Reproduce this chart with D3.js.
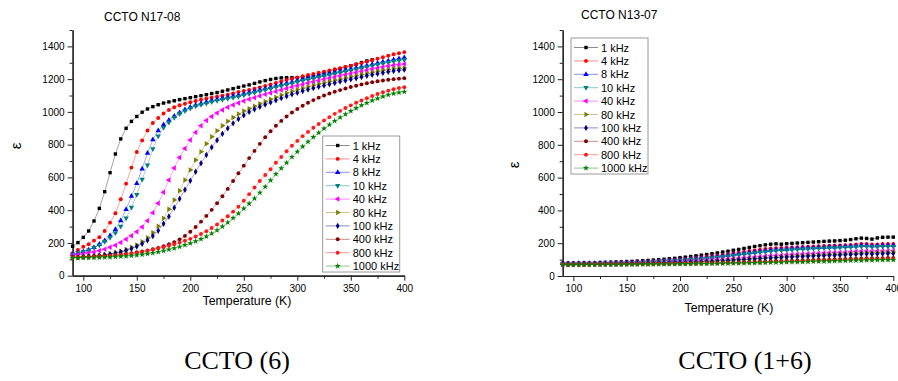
<!DOCTYPE html>
<html>
<head>
<meta charset="utf-8">
<script src="https://cdn.jsdelivr.net/npm/d3@7"></script>
<style>
  body { margin: 0; background: #fff; }
  svg { display: block; }
  text { font-family: "Liberation Sans", Arial, sans-serif; fill: #000; }
</style>
</head>
<body>
<svg id="chart" width="898" height="381"></svg>
<script>
// temperature grid (K)
const temps = [90,95,100,105,110,115,120,125,130,135,140,145,150,155,160,165,170,175,180,185,190,195,200,205,210,215,220,225,230,235,240,245,250,255,260,265,270,275,280,285,290,295,300,305,310,315,320,325,330,335,340,345,350,355,360,365,370,375,380,385,390,395,400];

const freqLabels = ['1 kHz','4 kHz','8 kHz','10 kHz','40 kHz','80 kHz','100 kHz','400 kHz','800 kHz','1000 kHz'];
const xTicks = [100,150,200,250,300,350,400];
const yTicks = [0,200,400,600,800,1000,1200,1400];

// sample N17-08 (CCTO (6))
const n17_1k = [180,202,234,273,334,411,513,629,743,835,900,942,972,998,1018,1032,1044,1054,1061,1068,1075,1081,1087,1093,1099,1105,1112,1118,1126,1134,1142,1150,1158,1165,1174,1183,1191,1198,1204,1208,1209,1209,1209,1211,1215,1220,1228,1237,1246,1255,1264,1273,1282,1291,1301,1311,1318];
const n17_4k = [137,157,177,192,214,235,273,324,381,467,562,660,755,826,886,932,963,990,1012,1028,1041,1050,1059,1067,1074,1081,1087,1093,1099,1105,1113,1122,1128,1134,1142,1150,1159,1168,1177,1186,1195,1203,1211,1218,1225,1232,1239,1246,1253,1260,1267,1274,1282,1290,1298,1307,1316,1325,1334,1343,1352,1358,1365];
const n17_8k = [131,137,147,157,173,192,214,245,283,336,405,485,564,652,748,830,885,922,950,974,996,1014,1029,1041,1051,1060,1068,1076,1083,1090,1096,1102,1110,1118,1126,1134,1142,1150,1158,1166,1174,1182,1190,1198,1205,1212,1219,1226,1233,1240,1247,1254,1261,1268,1275,1283,1290,1298,1305,1312,1319,1325,1331];
const n17_10k = [131,139,147,157,171,187,208,232,262,302,352,418,495,589,676,775,852,905,937,965,988,1007,1022,1035,1044,1053,1061,1069,1075,1081,1087,1093,1102,1110,1118,1127,1135,1143,1151,1159,1167,1175,1183,1191,1198,1205,1212,1219,1226,1233,1240,1247,1254,1261,1268,1275,1282,1289,1296,1302,1308,1313,1318];
const n17_40k = [124,128,133,139,145,153,161,173,186,202,222,244,268,298,335,385,442,509,584,658,722,776,828,875,915,948,972,993,1012,1028,1042,1055,1067,1077,1087,1097,1107,1116,1125,1134,1143,1152,1160,1168,1176,1184,1192,1199,1206,1213,1220,1227,1234,1241,1248,1255,1262,1268,1274,1280,1285,1289,1293];
const n17_80k = [112,113,115,117,120,123,128,134,141,150,160,173,188,207,232,263,302,350,405,462,519,584,645,706,757,805,848,885,916,943,966,987,1005,1020,1035,1050,1064,1077,1090,1103,1115,1126,1136,1145,1154,1162,1170,1178,1186,1193,1200,1207,1214,1221,1228,1235,1242,1248,1254,1259,1263,1266,1268];
const n17_100k = [112,113,115,117,119,122,126,131,137,145,154,165,178,195,216,242,275,317,362,415,470,525,580,635,687,737,784,827,866,900,930,957,980,1000,1016,1031,1045,1058,1071,1084,1096,1107,1117,1127,1136,1145,1153,1161,1169,1177,1185,1192,1199,1206,1213,1220,1227,1233,1239,1245,1250,1254,1258];
const n17_400k = [115,115,116,117,118,120,122,124,127,130,134,138,143,148,154,161,170,180,192,205,222,243,268,297,330,365,402,442,485,530,578,625,672,718,762,805,845,882,915,945,972,996,1018,1038,1056,1072,1087,1100,1112,1123,1133,1143,1152,1160,1168,1175,1181,1187,1192,1196,1200,1203,1206];
const n17_800k = [110,111,112,113,114,116,118,120,123,126,130,134,139,145,151,158,166,174,183,192,202,213,225,239,255,272,291,313,337,363,391,421,458,498,538,578,615,650,690,725,760,793,823,852,878,903,926,948,968,988,1006,1024,1040,1056,1070,1084,1097,1109,1120,1130,1139,1146,1151];
const n17_1000k = [108,108,109,109,110,111,112,113,115,117,119,122,125,129,134,139,145,152,160,168,177,187,198,210,224,240,258,278,300,325,352,380,410,440,472,507,543,582,621,656,690,725,757,788,818,846,873,898,922,945,966,986,1005,1023,1040,1055,1069,1082,1094,1104,1112,1118,1123];

// sample N13-07 (CCTO (1+6))
const n13_1k = [78,78,78,79,79,80,81,82,83,84,85,86,88,89,91,93,95,97,100,102,105,108,112,115,119,123,127,131,136,141,146,151,157,162,168,174,180,185,190,194,196,194,197,199,201,203,205,207,209,211,213,214,216,218,222,227,231,229,225,232,236,237,237];
const n13_4k = [76,76,76,77,77,78,78,79,80,80,81,82,83,84,85,87,88,90,92,94,96,98,101,104,107,110,113,117,121,125,129,133,138,142,147,152,156,161,165,168,170,171,173,174,176,177,179,180,182,183,185,186,187,188,190,193,196,196,192,193,195,195,195];
const n13_8k = [75,75,75,76,76,77,77,78,78,79,80,80,81,82,83,84,86,87,89,91,93,95,97,100,102,105,108,111,115,118,122,126,130,134,138,142,146,150,154,157,160,162,164,166,168,169,171,172,174,175,177,178,179,180,182,184,186,186,184,185,186,186,186];
const n13_10k = [75,75,75,75,76,76,77,77,78,78,79,79,80,81,82,83,84,86,87,89,91,93,95,97,100,102,105,108,111,114,118,121,125,129,133,137,141,145,148,151,154,156,158,160,162,164,165,167,168,170,171,172,174,175,176,178,180,180,178,179,180,180,180];
const n13_40k = [73,73,73,74,74,74,75,75,76,76,77,77,78,78,79,80,80,81,82,83,84,85,87,88,90,91,93,95,97,99,101,103,106,108,111,113,116,118,121,123,125,127,129,131,133,134,136,137,139,140,142,143,144,145,147,149,151,152,151,152,153,153,154];
const n13_80k = [72,72,72,73,73,73,74,74,74,75,75,76,76,77,77,78,78,79,80,80,81,82,83,84,86,87,88,90,91,93,95,97,99,101,103,105,107,109,111,113,115,117,119,121,123,124,126,127,129,130,132,133,134,136,137,139,141,142,142,143,144,145,146];
const n13_100k = [72,72,72,72,73,73,73,74,74,74,75,75,76,76,77,77,78,78,79,80,80,81,82,83,84,85,86,88,89,91,92,94,96,98,100,102,104,106,108,110,111,113,115,116,118,119,121,122,123,125,126,127,128,129,131,132,134,135,134,135,136,137,137];
const n13_400k = [70,70,70,70,70,71,71,71,71,72,72,72,72,73,73,73,74,74,74,75,75,76,76,77,77,78,78,79,80,80,81,82,83,84,85,86,87,88,89,90,91,92,93,94,95,96,97,98,99,100,101,102,103,104,105,106,107,108,108,109,109,110,110];
const n13_800k = [69,69,69,69,69,70,70,70,70,70,71,71,71,71,72,72,72,72,73,73,73,74,74,75,75,75,76,76,77,77,78,79,79,80,81,82,82,83,84,85,86,87,88,89,89,90,91,92,93,94,95,96,97,98,99,100,101,102,102,103,103,104,104];
const n13_1000k = [68,68,68,68,68,68,69,69,69,69,69,70,70,70,70,71,71,71,71,72,72,72,73,73,73,74,74,74,75,75,76,76,77,77,78,79,79,80,81,82,82,83,84,85,85,86,87,88,89,89,90,91,92,93,94,94,95,96,96,97,97,98,98];

const colors = ['#000000','#ff0000','#0000ff','#008080','#ff00ff','#808000','#000080','#800000','#ff1a1a','#008000'];
const shapes = ['square','circle','triUp','triDown','triLeft','triRight','diamond','circle','circle','star'];

const svg = d3.select('#chart');

function markerPath(shape) {
  if (shape === 'square') return 'M-1.7,-1.7h3.4v3.4h-3.4z';
  if (shape === 'circle') return d3.symbol(d3.symbolCircle, 12)();
  if (shape === 'diamond') return d3.symbol(d3.symbolDiamond, 12)();
  if (shape === 'star') return d3.symbol(d3.symbolStar, 12)();
  return d3.symbol(d3.symbolTriangle, 13)();
}
function markerRot(shape) {
  return {triDown: 180, triLeft: -90, triRight: 90}[shape] || 0;
}

function drawPanel(p) {
  const x = d3.scaleLinear().domain([90, 400]).range([p.x0, p.x1]);
  const y = d3.scaleLinear().domain([0, 1500]).range([p.yb, p.yt]);
  const g = svg.append('g');

  // axes
  g.append('g').attr('transform', `translate(${p.x0},0)`)
    .call(d3.axisLeft(y).tickValues(yTicks).tickFormat(d3.format('d')).tickSize(5).tickSizeOuter(0).tickPadding(3));
  g.append('g').attr('transform', `translate(${p.x0},0)`)
    .call(d3.axisLeft(y).tickValues([100,300,500,700,900,1100,1300,1500]).tickSize(3).tickSizeOuter(0).tickFormat(''));
  g.append('g').attr('transform', `translate(0,${p.yb})`)
    .call(d3.axisBottom(x).tickValues(xTicks).tickFormat(d3.format('d')).tickSize(5).tickSizeOuter(0).tickPadding(4));
  g.append('g').attr('transform', `translate(0,${p.yb})`)
    .call(d3.axisBottom(x).tickValues([125,175,225,275,325,375]).tickSize(3).tickSizeOuter(0).tickFormat(''));
  g.selectAll('.domain').attr('stroke', '#222').attr('stroke-width', 1.2);
  g.selectAll('.tick line').attr('stroke', '#222');
  g.selectAll('.tick text').attr('font-size', 10).attr('font-family', '"Liberation Sans", Arial, sans-serif');

  // series
  p.series.forEach((vals, i) => {
    const pts = vals.map((v, k) => ({t: temps[k], v}));
    const line = d3.line().x(d => x(d.t)).y(d => y(d.v));
    g.append('path').datum(pts)
      .attr('d', line)
      .attr('fill', 'none')
      .attr('stroke', colors[i])
      .attr('stroke-opacity', 0.45)
      .attr('stroke-width', 0.8);
    g.selectAll(null).data(pts).enter().append('path')
      .attr('d', markerPath(shapes[i]))
      .attr('transform', d => `translate(${x(d.t)},${y(d.v)}) rotate(${markerRot(shapes[i])})`)
      .attr('fill', colors[i]);
  });

  // title and axis titles
  g.append('text').attr('x', p.titleX).attr('y', p.titleY).attr('font-size', 12).text(p.title);
  g.append('text').attr('x', p.xLabelX).attr('y', p.xLabelY)
    .attr('text-anchor', 'middle').attr('font-size', 12.3).text('Temperature (K)');
  g.append('text').attr('transform', `translate(${p.epsX},${p.epsY}) rotate(-90)`)
    .attr('text-anchor', 'middle').attr('font-size', 15).text('ε');

  // legend
  const lg = g.append('g').attr('transform', `translate(${p.legX},${p.legY})`);
  lg.append('rect').attr('width', 77).attr('height', 136)
    .attr('fill', '#fff').attr('stroke', '#9a9a9a').attr('stroke-width', 1);
  freqLabels.forEach((lab, i) => {
    const cy = 9.5 + i * 13.4;
    lg.append('line').attr('x1', 3).attr('x2', 27).attr('y1', cy).attr('y2', cy)
      .attr('stroke', colors[i]).attr('stroke-opacity', 0.45).attr('stroke-width', 1);
    lg.append('path').attr('d', markerPath(shapes[i]))
      .attr('transform', `translate(15,${cy}) rotate(${markerRot(shapes[i])})`)
      .attr('fill', colors[i]);
    lg.append('text').attr('x', 30).attr('y', cy + 4).attr('font-size', 11).text(lab);
  });

  // caption
  svg.append('text').attr('x', p.capX).attr('y', 369).attr('text-anchor', 'middle')
    .attr('font-size', 26).style('font-family', '"Liberation Serif", "Times New Roman", serif')
    .text(p.caption);
}

drawPanel({
  x0: 72.6, x1: 404.3, yb: 275.7, yt: 30,
  series: [n17_1k, n17_4k, n17_8k, n17_10k, n17_40k, n17_80k, n17_100k, n17_400k, n17_800k, n17_1000k],
  title: 'CCTO N17-08', titleX: 104, titleY: 21,
  xLabelX: 247, xLabelY: 305, epsX: 21, epsY: 146,
  legX: 322.7, legY: 136, caption: 'CCTO (6)', capX: 237
});
drawPanel({
  x0: 562.7, x1: 893.3, yb: 276, yt: 30,
  series: [n13_1k, n13_4k, n13_8k, n13_10k, n13_40k, n13_80k, n13_100k, n13_400k, n13_800k, n13_1000k],
  title: 'CCTO N13-07', titleX: 581, titleY: 19,
  xLabelX: 729, xLabelY: 312, epsX: 519, epsY: 165,
  legX: 571, legY: 38, caption: 'CCTO (1+6)', capX: 745
});
</script>
</body>
</html>
